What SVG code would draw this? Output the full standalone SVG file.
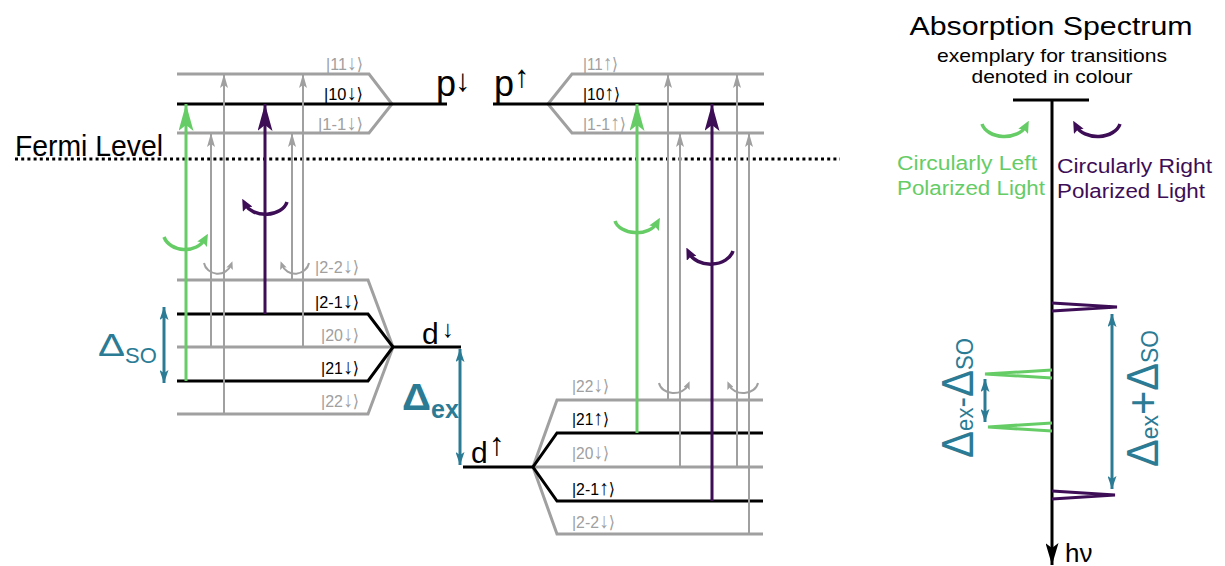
<svg xmlns="http://www.w3.org/2000/svg" width="1225" height="566" viewBox="0 0 1225 566">
<defs>
<style>
text{font-family:"Liberation Sans","DejaVu Sans",sans-serif}
.lvl{fill:none;stroke:#a0a0a0;stroke-width:3}
.lvk{fill:none;stroke:#000;stroke-width:3}
.st{font-size:17px}
.ar{font-size:21px}
.sg{fill:#a0a0a0}
.sk{fill:#000}
.tg{fill:none;stroke:#a0a0a0;stroke-width:2;marker-end:url(#mg)}
.tgr{fill:none;stroke:#66cc66;stroke-width:3;marker-end:url(#mgr)}
.tpu{fill:none;stroke:#3d0d56;stroke-width:3;marker-end:url(#mpu)}
.lgr{fill:none;stroke:#66cc66;stroke-width:3.5;marker-end:url(#hgr)}
.lpu{fill:none;stroke:#3d0d56;stroke-width:3.5;marker-end:url(#hpu)}
.lgy{fill:none;stroke:#a0a0a0;stroke-width:2;marker-end:url(#hgy)}
.dim{fill:none;stroke:#2b7b95;stroke-width:3;marker-start:url(#mt);marker-end:url(#mt)}
.tl{fill:#2b7b95}
.pk{fill:none;stroke-width:3}
</style>
<marker id="mg" viewBox="0 0 14 8" refX="14" refY="4" markerWidth="14" markerHeight="8" markerUnits="userSpaceOnUse" orient="auto"><path d="M0,0 L14,4 L0,8 L3,4 z" fill="#a0a0a0"/></marker>
<marker id="mgr" viewBox="0 0 27 15" refX="27" refY="7.5" markerWidth="27" markerHeight="15" markerUnits="userSpaceOnUse" orient="auto"><path d="M0,0 L27,7.5 L0,15 L6,7.5 z" fill="#66cc66"/></marker>
<marker id="mpu" viewBox="0 0 27 15" refX="27" refY="7.5" markerWidth="27" markerHeight="15" markerUnits="userSpaceOnUse" orient="auto"><path d="M0,0 L27,7.5 L0,15 L6,7.5 z" fill="#3d0d56"/></marker>
<marker id="hgr" viewBox="0 0 12 11" refX="6" refY="5.5" markerWidth="12" markerHeight="11" markerUnits="userSpaceOnUse" orient="auto"><path d="M0,0 L12,5.5 L0,11 L2,5.5 z" fill="#66cc66"/></marker>
<marker id="hpu" viewBox="0 0 12 11" refX="6" refY="5.5" markerWidth="12" markerHeight="11" markerUnits="userSpaceOnUse" orient="auto"><path d="M0,0 L12,5.5 L0,11 L2,5.5 z" fill="#3d0d56"/></marker>
<marker id="hgy" viewBox="0 0 8 7" refX="4" refY="3.5" markerWidth="8" markerHeight="7" markerUnits="userSpaceOnUse" orient="auto"><path d="M0,0 L8,3.5 L0,7 L1.5,3.5 z" fill="#a0a0a0"/></marker>
<marker id="mt" viewBox="0 0 13 9" refX="13" refY="4.5" markerWidth="13" markerHeight="9" markerUnits="userSpaceOnUse" orient="auto-start-reverse"><path d="M0,0 L13,4.5 L0,9 L3,4.5 z" fill="#2b7b95"/></marker>
<marker id="mk" viewBox="0 0 22 13" refX="22" refY="6.5" markerWidth="22" markerHeight="13" markerUnits="userSpaceOnUse" orient="auto"><path d="M0,0 L22,6.5 L0,13 L5,6.5 z" fill="#000"/></marker>
</defs>

<g id="fermi-level">
<line x1="15" y1="159" x2="840" y2="159" stroke="#000" stroke-width="3" stroke-dasharray="3 3.2"/>
<text x="15" y="156" font-size="29" textLength="148" lengthAdjust="spacingAndGlyphs">Fermi Level</text>
</g>

<g id="p-down">
<path class="lvl" d="M177,74 H369 L392,104 L369,133 H177"/>
<path class="lvk" d="M177,104 H447"/>
<text class="st sg" x="363" y="70" text-anchor="end" textLength="37" lengthAdjust="spacingAndGlyphs">|11<tspan class="ar">↓</tspan>⟩</text>
<text class="st sk" x="363" y="100" text-anchor="end" textLength="39" lengthAdjust="spacingAndGlyphs">|10<tspan class="ar">↓</tspan>⟩</text>
<text class="st sg" x="363" y="130" text-anchor="end" textLength="45" lengthAdjust="spacingAndGlyphs">|1-1<tspan class="ar">↓</tspan>⟩</text>
<text x="436" y="96" font-size="36">p<tspan x="455" y="91" font-size="31">↓</tspan></text>
</g>

<g id="p-up">
<path class="lvl" d="M764,74 H572 L548,104 L572,133 H764"/>
<path class="lvk" d="M493,104 H764"/>
<text class="st sg" x="583" y="70" textLength="35" lengthAdjust="spacingAndGlyphs">|11<tspan class="ar">↑</tspan>⟩</text>
<text class="st sk" x="583" y="100" textLength="37" lengthAdjust="spacingAndGlyphs">|10<tspan class="ar">↑</tspan>⟩</text>
<text class="st sg" x="583" y="130" textLength="43" lengthAdjust="spacingAndGlyphs">|1-1<tspan class="ar">↑</tspan>⟩</text>
<text x="494" y="96" font-size="36">p<tspan x="514" y="87" font-size="31">↑</tspan></text>
</g>

<g id="d-down">
<path class="lvl" d="M177,280 H368 L393,347"/>
<path class="lvl" d="M177,414 H368 L393,347"/>
<path class="lvl" d="M177,347 H393"/>
<path class="lvk" d="M177,314 H368 L393,347 L368,381 H177"/>
<path class="lvk" d="M393,347 H461"/>
<text class="st sg" x="359" y="273" text-anchor="end" textLength="44" lengthAdjust="spacingAndGlyphs">|2-2<tspan class="ar">↓</tspan>⟩</text>
<text class="st sk" x="359" y="308" text-anchor="end" textLength="44" lengthAdjust="spacingAndGlyphs">|2-1<tspan class="ar">↓</tspan>⟩</text>
<text class="st sg" x="359" y="341" text-anchor="end" textLength="38" lengthAdjust="spacingAndGlyphs">|20<tspan class="ar">↓</tspan>⟩</text>
<text class="st sk" x="359" y="374" text-anchor="end" textLength="38" lengthAdjust="spacingAndGlyphs">|21<tspan class="ar">↓</tspan>⟩</text>
<text class="st sg" x="359" y="407" text-anchor="end" textLength="38" lengthAdjust="spacingAndGlyphs">|22<tspan class="ar">↓</tspan>⟩</text>
<text x="422" y="344" font-size="30">d<tspan x="442" y="337" font-size="24">↓</tspan></text>
</g>

<g id="d-up">
<path class="lvl" d="M763,400 H557 L533,467 L557,534 H763"/>
<path class="lvl" d="M533,467 H763"/>
<path class="lvk" d="M763,433 H557 L533,467 L557,501 H763"/>
<path class="lvk" d="M463,467 H533"/>
<text class="st sg" x="572" y="392" textLength="37" lengthAdjust="spacingAndGlyphs">|22<tspan class="ar">↓</tspan>⟩</text>
<text class="st sk" x="572" y="425" textLength="37" lengthAdjust="spacingAndGlyphs">|21<tspan class="ar">↑</tspan>⟩</text>
<text class="st sg" x="572" y="459" textLength="37" lengthAdjust="spacingAndGlyphs">|20<tspan class="ar">↓</tspan>⟩</text>
<text class="st sk" x="572" y="495" textLength="43" lengthAdjust="spacingAndGlyphs">|2-1<tspan class="ar">↑</tspan>⟩</text>
<text class="st sg" x="572" y="528" textLength="43" lengthAdjust="spacingAndGlyphs">|2-2<tspan class="ar">↓</tspan>⟩</text>
<text x="471" y="463" font-size="30">d<tspan x="489" y="455" font-size="32">↑</tspan></text>
</g>

<g id="connectors">
<path class="tg" d="M211,347 V133"/>
<path class="tg" d="M224,414 V74"/>
<path class="tg" d="M292,280 V133"/>
<path class="tg" d="M303,347 V74"/>
<path class="tgr" d="M186,381 V104"/>
<path class="tpu" d="M265,314 V104"/>
<path class="tg" d="M668,400 V74"/>
<path class="tg" d="M680,467 V133"/>
<path class="tg" d="M737,467 V74"/>
<path class="tg" d="M749,534 V133"/>
<path class="tgr" d="M637,433 V104"/>
<path class="tpu" d="M712,501 V104"/>
</g>

<g id="polarization-icons">
<path class="lgr" d="M164,237 A22,18 0 0 0 205,239"/>
<path class="lpu" d="M287,202 A22,16 0 0 1 245,204"/>
<path class="lgy" d="M204,263 A14,13 0 0 0 231,265"/>
<path class="lgy" d="M309,263 A14,13 0 0 1 282,265"/>
<path class="lgr" d="M615,221 A22,15 0 0 0 657,223"/>
<path class="lpu" d="M733,251 A23,17 0 0 1 689,253"/>
<path class="lgy" d="M659,383 A15,12 0 0 0 688,385"/>
<path class="lgy" d="M758,383 A15,12 0 0 1 729,385"/>
</g>

<g id="delta-so">
<path class="dim" d="M164,307 V383"/>
<text class="tl" x="98" y="356" font-size="31" textLength="27" lengthAdjust="spacingAndGlyphs">Δ</text>
<text class="tl" x="125" y="363" font-size="22">SO</text>
</g>

<g id="delta-ex">
<path class="dim" d="M460,349 V465"/>
<text class="tl" x="402" y="410" font-size="37" font-weight="bold" textLength="29" lengthAdjust="spacingAndGlyphs">Δ</text>
<text class="tl" x="431" y="418" font-size="25" font-weight="bold">ex</text>
</g>

<g id="spectrum">
<text x="1051" y="35" font-size="25" text-anchor="middle" textLength="283" lengthAdjust="spacingAndGlyphs">Absorption Spectrum</text>
<text x="1052" y="62" font-size="19" text-anchor="middle" textLength="230" lengthAdjust="spacingAndGlyphs">exemplary for transitions</text>
<text x="1052" y="83" font-size="19" text-anchor="middle" textLength="161" lengthAdjust="spacingAndGlyphs">denoted in colour</text>
<path d="M1013,100 H1089" stroke="#000" stroke-width="3"/>
<path d="M1052,100 V565" stroke="#000" stroke-width="3" marker-end="url(#mk)"/>
<text x="1065" y="562" font-size="26">hν</text>
<path class="lgr" d="M982,124 A23,16 0 0 0 1026,126"/>
<path class="lpu" d="M1120,124 A23,16 0 0 1 1076,126"/>
<text fill="#66cc66" font-size="20"><tspan x="897" y="170" textLength="140" lengthAdjust="spacingAndGlyphs">Circularly Left</tspan><tspan x="897" y="195" textLength="148" lengthAdjust="spacingAndGlyphs">Polarized Light</tspan></text>
<text fill="#3d0d56" font-size="20"><tspan x="1057" y="173" textLength="155" lengthAdjust="spacingAndGlyphs">Circularly Right</tspan><tspan x="1057" y="198" textLength="148" lengthAdjust="spacingAndGlyphs">Polarized Light</tspan></text>
<polyline class="pk" stroke="#3d0d56" points="1052,303 1117,307 1052,311"/>
<polyline class="pk" stroke="#66cc66" points="1052,370 985,374 1052,378"/>
<polyline class="pk" stroke="#66cc66" points="1052,423 988,427 1052,431"/>
<polyline class="pk" stroke="#3d0d56" points="1052,491 1115,495 1052,499"/>
<path class="dim" d="M985,379 V422"/>
<path class="dim" d="M1112,314 V489"/>
<text class="tl" font-size="44" transform="translate(973,458) rotate(-90)" textLength="120" lengthAdjust="spacingAndGlyphs">Δ<tspan font-size="24">ex</tspan><tspan font-size="34">-</tspan>Δ<tspan font-size="24">SO</tspan></text>
<text class="tl" font-size="44" transform="translate(1158,467) rotate(-90)" textLength="137" lengthAdjust="spacingAndGlyphs">Δ<tspan font-size="24">ex</tspan>+Δ<tspan font-size="24">SO</tspan></text>
</g>
</svg>
